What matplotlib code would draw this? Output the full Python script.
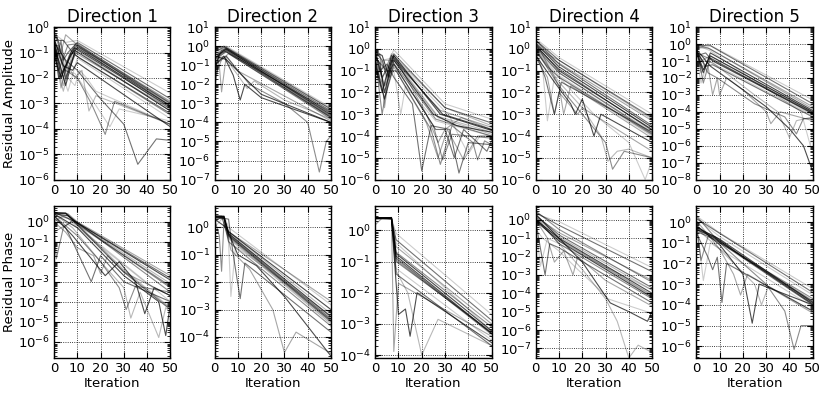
import numpy as np
import matplotlib
matplotlib.use("Agg")
import matplotlib.pyplot as plt
from matplotlib.ticker import LogLocator

# each curve: list of (iteration, residual) knots
amp_d1 = [
    [(0, 0.5), (2, 0.4), (5, 0.25), (10, 0.3), (50, 2.5e-3)],
    [(0, 0.6), (1, 0.5), (4, 0.05), (6, 0.1), (10, 0.25), (50, 1.5e-3)],
    [(0, 0.3), (3, 4e-3), (6, 0.05), (9, 0.2), (50, 1e-3)],
    [(0, 0.2), (2, 0.01), (5, 0.03), (9, 0.15), (50, 7e-4)],
    [(0, 0.1), (4, 3e-3), (7, 0.04), (10, 0.12), (50, 5e-4)],
    [(0, 0.4), (1, 0.05), (3, 0.3), (5, 0.01), (9, 0.08), (50, 3.5e-4)],
    [(0, 0.15), (3, 0.02), (6, 3e-3), (10, 0.06), (50, 2.5e-4)],
    [(0, 0.5), (2, 0.3), (4, 0.3), (8, 0.1), (11, 0.06), (50, 4e-4)],
    [(0, 0.05), (2, 0.2), (5, 8e-3), (9, 0.1), (50, 6e-4)],
    [(0, 0.35), (4, 0.03), (8, 0.02), (10, 0.04), (50, 1.2e-4)],
    [(0, 0.3), (6, 0.03), (9, 0.01), (12, 0.02), (15, 5e-4), (18, 2e-3), (50, 1.5e-4)],
    [(0, 0.2), (5, 0.02), (10, 0.01), (16, 1e-3), (22, 6e-5), (26, 1.2e-3), (50, 1.5e-4)],
    [(0, 0.4), (4, 0.02), (9, 0.015), (14, 3e-3), (24, 1.2e-4), (28, 6e-4), (50, 2e-4)],
    [(0, 0.25), (5, 0.05), (10, 0.02), (20, 1.5e-3), (30, 1.5e-4), (36, 4e-6), (44, 4e-5), (50, 3.5e-5)],
    [(0, 0.6), (3, 0.1), (5, 0.5), (10, 0.2), (50, 1.2e-3)],
    [(0, 0.08), (3, 0.01), (7, 0.08), (10, 0.15), (50, 8e-4)],
    [(0, 0.02), (1, 0.1), (4, 5e-3), (9, 0.2), (50, 9e-4)],
    [(0, 0.3), (2, 0.02), (6, 0.2), (10, 0.22), (50, 1e-3)],
    [(0, 0.2), (6, 0.01), (9, 5e-3), (11, 0.02), (14, 0.01), (18, 3e-3), (50, 1.5e-4)],
    [(0, 0.4), (3, 0.01), (7, 0.1), (10, 0.2), (50, 8e-4)],
    [(0, 0.25), (4, 0.01), (8, 0.15), (11, 0.15), (50, 6e-4)],
    [(0, 0.15), (2, 0.05), (5, 5e-3), (9, 0.12), (50, 5e-4)],
    [(0, 0.45), (3, 0.2), (6, 0.02), (10, 0.18), (50, 1.1e-3)],
]

amp_d2 = [
    [(0, 0.8), (5, 1.0), (50, 6e-4)],
    [(0, 0.5), (4, 0.9), (50, 4e-4)],
    [(0, 0.3), (5, 0.8), (50, 3e-4)],
    [(0, 0.05), (2, 0.4), (5, 0.7), (50, 2.5e-4)],
    [(0, 0.01), (1, 0.2), (5, 0.6), (50, 2e-4)],
    [(0, 5e-3), (2, 0.3), (5, 0.5), (50, 1.5e-4)],
    [(0, 0.6), (3, 0.7), (5, 0.9), (50, 5e-4)],
    [(0, 0.2), (4, 0.6), (50, 3.5e-4)],
    [(0, 0.03), (2, 0.1), (3, 4e-3), (5, 0.3), (10, 0.05), (50, 1.2e-4)],
    [(0, 0.1), (4, 0.3), (8, 0.03), (11, 1.5e-3), (13, 0.01), (20, 2e-3), (50, 1e-4)],
    [(0, 0.2), (4, 0.3), (10, 0.03), (14, 6e-3), (17, 0.015), (30, 1.5e-3), (50, 1.5e-4)],
    [(0, 0.1), (5, 0.3), (15, 0.01), (30, 1e-3), (40, 1e-4), (45, 2.5e-7), (48, 1e-5), (50, 2e-5)],
    [(0, 0.4), (5, 0.5), (50, 2e-4)],
    [(0, 0.7), (4, 1.0), (50, 5e-4)],
    [(0, 0.02), (3, 0.2), (6, 0.4), (50, 1.8e-4)],
    [(0, 0.3), (5, 0.2), (20, 3e-3), (50, 1e-4)],
    [(0, 0.15), (2, 0.5), (5, 0.8), (50, 3e-4)],
    [(0, 0.08), (3, 0.6), (5, 0.7), (50, 2.2e-4)],
    [(0, 0.4), (4, 0.8), (50, 2.8e-4)],
    [(0, 0.25), (5, 0.6), (50, 1.8e-4)],
]

amp_d3 = [
    [(0, 0.5), (1, 1.0), (4, 0.1), (8, 0.9), (30, 3e-3), (50, 6e-4)],
    [(0, 0.8), (3, 0.3), (5, 0.05), (8, 0.6), (30, 2e-3), (50, 4e-4)],
    [(0, 0.3), (2, 0.6), (4, 2e-3), (7, 0.4), (28, 1.5e-3), (50, 2.5e-4)],
    [(0, 0.2), (3, 0.01), (7, 0.5), (29, 1e-3), (50, 2e-4)],
    [(0, 0.6), (2, 0.05), (4, 0.3), (8, 0.3), (27, 7e-4), (50, 1.2e-4)],
    [(0, 0.4), (3, 1e-3), (6, 0.1), (8, 0.2), (25, 3e-4), (29, 8e-6), (33, 1.2e-4), (50, 8e-5)],
    [(0, 0.1), (4, 0.02), (8, 0.1), (11, 1e-3), (13, 0.02), (26, 5e-4), (50, 1e-4)],
    [(0, 0.9), (2, 0.1), (5, 0.2), (8, 0.05), (16, 3e-3), (20, 2.5e-6), (24, 3e-4), (32, 2e-4), (36, 2e-6), (40, 5e-5), (50, 4e-5)],
    [(0, 0.3), (4, 5e-3), (8, 0.15), (22, 4e-4), (27, 1e-5), (31, 2e-4), (38, 8e-6), (44, 1e-4), (50, 1e-4)],
    [(0, 0.7), (3, 0.5), (6, 0.05), (8, 0.3), (25, 1e-3), (35, 3e-4), (50, 1.5e-4)],
    [(0, 0.2), (2, 0.02), (7, 0.6), (30, 2e-3), (50, 3e-4)],
    [(0, 0.4), (5, 0.1), (9, 0.1), (24, 2e-4), (28, 5e-6), (33, 3e-4), (42, 5e-5), (44, 8e-6), (47, 6e-5), (50, 4e-5)],
    [(0, 0.05), (3, 0.3), (8, 0.4), (32, 8e-4), (36, 1e-4), (40, 1.5e-5), (45, 1e-4), (50, 1e-4)],
    [(0, 0.3), (4, 5e-3), (8, 0.2), (26, 2e-4), (30, 2e-4), (34, 1e-5), (38, 2e-4), (48, 2e-5), (50, 6e-5)],
    [(0, 0.5), (3, 0.05), (8, 0.5), (22, 1e-3), (27, 5e-5), (30, 2e-4), (37, 7e-4), (50, 2e-4)],
    [(0, 0.5), (2, 0.2), (4, 0.01), (8, 0.5), (28, 1e-3), (50, 1.8e-4)],
    [(0, 0.3), (3, 0.05), (8, 0.35), (27, 8e-4), (50, 1.5e-4)],
    [(0, 0.7), (4, 0.02), (7, 0.3), (26, 6e-4), (50, 1e-4)],
]

amp_d4 = [
    [(0, 3.0), (10, 0.4), (50, 1e-3)],
    [(0, 2.5), (10, 0.3), (50, 7e-4)],
    [(0, 2.0), (8, 0.3), (50, 5e-4)],
    [(0, 1.5), (10, 0.1), (50, 2e-4)],
    [(0, 1.0), (10, 0.08), (50, 1.5e-4)],
    [(0, 0.8), (5, 0.15), (10, 0.05), (50, 1.2e-4)],
    [(0, 1.2), (3, 0.1), (5, 5e-4), (8, 0.05), (10, 0.05), (50, 1e-4)],
    [(0, 0.6), (4, 0.05), (8, 1e-3), (11, 0.03), (50, 1.5e-4)],
    [(0, 2.0), (5, 0.2), (10, 0.02), (12, 1e-3), (15, 0.02), (50, 8e-5)],
    [(0, 0.5), (8, 0.03), (15, 3e-3), (17, 1e-3), (20, 5e-3), (25, 1e-4), (28, 1e-3), (50, 5e-5)],
    [(0, 1.0), (10, 0.03), (20, 2e-3), (28, 1e-4), (31, 7e-6), (35, 2e-5), (40, 2.5e-5), (50, 1e-5)],
    [(0, 0.9), (10, 0.02), (20, 1e-3), (30, 5e-5), (33, 3e-6), (38, 2e-5), (50, 1e-5)],
    [(0, 0.7), (10, 0.05), (25, 1e-3), (40, 5e-5), (47, 1e-6), (50, 8e-6)],
    [(0, 2.5), (10, 0.2), (50, 3e-4)],
    [(0, 0.4), (5, 0.05), (8, 1e-3), (10, 0.01), (18, 1e-3), (20, 2e-3), (50, 2e-5)],
    [(0, 1.8), (10, 0.15), (50, 2.5e-4)],
    [(0, 1.5), (6, 0.5), (10, 0.3), (50, 6e-4)],
    [(0, 1.2), (10, 0.08), (50, 1.3e-4)],
    [(0, 0.9), (10, 0.06), (50, 1.1e-4)],
    [(0, 1.3), (10, 0.12), (50, 1.8e-4)],
]

amp_d5 = [
    [(0, 0.5), (5, 1.0), (50, 5e-4)],
    [(0, 0.8), (6, 0.8), (50, 3e-4)],
    [(0, 1.0), (6, 0.5), (50, 2e-4)],
    [(0, 0.3), (3, 0.02), (6, 0.3), (50, 1.2e-4)],
    [(0, 0.5), (2, 0.1), (6, 0.2), (50, 1e-4)],
    [(0, 0.7), (3, 5e-3), (6, 0.15), (50, 8e-5)],
    [(0, 0.2), (2, 5e-3), (5, 0.1), (50, 6e-5)],
    [(0, 0.4), (4, 0.05), (7, 0.06), (50, 5e-5)],
    [(0, 0.6), (2, 0.05), (5, 0.05), (7, 1e-3), (9, 0.01), (10, 1e-3), (13, 0.01), (20, 2e-3), (30, 1e-4), (32, 2e-5), (36, 1e-4), (50, 3e-5)],
    [(0, 0.5), (6, 0.05), (30, 2e-4), (40, 1e-5), (46, 1e-6), (50, 3e-8)],
    [(0, 0.3), (3, 0.1), (7, 0.08), (25, 1e-3), (35, 1e-4), (40, 3e-6), (43, 3e-5), (50, 5e-5)],
    [(0, 0.5), (5, 0.02), (9, 0.01), (25, 3e-4), (38, 5e-5), (43, 5e-6), (46, 4e-5), (50, 4e-5)],
    [(0, 0.9), (6, 0.4), (45, 1e-4), (49, 1e-6), (50, 1e-5)],
    [(0, 0.2), (4, 0.3), (7, 0.1), (50, 8e-5)],
    [(0, 0.6), (5, 0.6), (50, 1.5e-4)],
    [(0, 0.4), (3, 0.03), (6, 0.2), (50, 1e-4)],
    [(0, 0.6), (2, 0.02), (6, 0.15), (50, 7e-5)],
    [(0, 0.3), (5, 0.15), (50, 9e-5)],
]

ph_d1 = [
    [(0, 2.8), (5, 2.8), (10, 0.8), (30, 4e-3), (50, 5e-5)],
    [(0, 2.9), (5, 2.7), (10, 0.7), (30, 3e-3), (50, 4e-5)],
    [(0, 2.7), (6, 2.5), (10, 1.0), (50, 2e-3)],
    [(0, 2.5), (6, 2.0), (10, 0.9), (50, 1.2e-3)],
    [(0, 1.0), (4, 2.0), (9, 1.0), (50, 8e-4)],
    [(0, 0.5), (1, 0.014), (4, 0.5), (8, 1.2), (50, 5e-4)],
    [(0, 2.0), (6, 1.5), (10, 0.5), (40, 8e-4), (50, 2e-4)],
    [(0, 1.5), (5, 0.5), (8, 0.1), (12, 0.01), (16, 1e-3), (20, 0.02), (30, 1e-3), (50, 1e-4)],
    [(0, 1.0), (5, 0.3), (10, 0.05), (17, 0.02), (20, 2.5e-3), (23, 0.02), (30, 3e-3), (50, 2e-4)],
    [(0, 2.0), (8, 0.2), (15, 0.02), (22, 2e-3), (28, 0.01), (35, 1e-3), (39, 2.5e-5), (43, 5e-4), (50, 2e-4)],
    [(0, 2.5), (8, 0.5), (20, 0.01), (30, 5e-4), (33, 1.5e-5), (37, 3e-4), (45, 1.6e-6), (48, 5e-5), (50, 3e-5)],
    [(0, 2.0), (10, 0.2), (20, 0.01), (28, 5e-4), (31, 4e-5), (35, 6e-4), (50, 3e-4)],
    [(0, 2.8), (5, 2.6), (10, 0.6), (50, 1e-4)],
    [(0, 3.0), (10, 0.9), (50, 1.5e-3)],
    [(0, 0.3), (3, 0.5), (8, 1.0), (50, 6e-4)],
    [(0, 2.5), (10, 0.5), (30, 2e-3), (45, 1e-4), (48, 2e-6), (50, 8e-5)],
    [(0, 2.9), (5, 2.8), (10, 0.75), (30, 3.5e-3), (50, 4.5e-5)],
    [(0, 2.7), (5, 2.6), (10, 0.9), (50, 3e-4)],
    [(0, 2.8), (6, 2.4), (10, 0.8), (50, 6e-4)],
]

ph_d2 = [
    [(0, 2.5), (4, 2.5), (6, 0.6), (50, 5e-4)],
    [(0, 2.4), (4, 2.4), (6, 0.5), (50, 4e-4)],
    [(0, 2.6), (3, 2.6), (5, 0.8), (50, 2e-3)],
    [(0, 2.2), (4, 2.2), (6, 0.7), (50, 1e-3)],
    [(0, 1.5), (3, 2.5), (6, 0.4), (50, 3e-4)],
    [(0, 2.0), (2, 0.5), (3, 0.025), (4, 1.5), (6, 0.3), (50, 2.5e-4)],
    [(0, 1.0), (4, 2.5), (6, 0.3), (7, 3e-3), (9, 0.2), (50, 6e-4)],
    [(0, 2.5), (6, 2.0), (8, 0.1), (11, 2.5e-3), (13, 0.05), (50, 1.5e-4)],
    [(0, 2.3), (4, 2.0), (7, 0.15), (15, 0.03), (25, 1e-3), (30, 2.7e-5), (35, 1.5e-4), (50, 2.5e-5)],
    [(0, 2.0), (5, 1.0), (10, 0.1), (18, 0.04), (30, 3e-3), (50, 2e-5)],
    [(0, 2.5), (4, 2.6), (6, 0.7), (50, 7e-4)],
    [(0, 2.4), (4, 2.3), (6, 0.45), (50, 3.5e-4)],
    [(0, 2.7), (4, 2.7), (6, 1.0), (50, 1.5e-3)],
    [(0, 2.5), (4, 2.5), (6, 0.55), (50, 4.5e-4)],
    [(0, 2.3), (4, 2.4), (6, 0.5), (50, 3.8e-4)],
    [(0, 2.6), (4, 2.5), (6, 0.6), (50, 5.5e-4)],
]

ph_d3 = [
    [(0, 2.5), (7, 2.5), (9, 0.8), (50, 2e-3)],
    [(0, 2.6), (7, 2.4), (9, 0.5), (50, 1.3e-3)],
    [(0, 2.4), (7, 2.5), (9, 0.3), (50, 1e-3)],
    [(0, 2.5), (7, 2.6), (9, 0.15), (50, 5e-4)],
    [(0, 2.4), (7, 2.4), (9, 0.12), (50, 4.5e-4)],
    [(0, 2.6), (7, 2.5), (9, 0.1), (50, 5.5e-4)],
    [(0, 2.3), (7, 2.3), (9, 0.06), (50, 3e-4)],
    [(0, 2.5), (7, 2.5), (9, 0.04), (50, 2e-4)],
    [(0, 1.5), (3, 2.5), (7, 2.5), (8, 1.3e-4), (10, 0.02), (50, 4e-4)],
    [(0, 2.5), (7, 2.3), (9, 0.02), (10, 2e-3), (13, 3e-3), (15, 4e-4), (18, 0.01), (50, 2.5e-4)],
    [(0, 2.5), (7, 2.4), (9, 0.05), (14, 0.01), (20, 1e-4), (27, 1.4e-3), (50, 2e-4)],
    [(0, 2.5), (7, 2.6), (9, 0.2), (50, 8e-4)],
    [(0, 2.2), (7, 2.5), (9, 0.4), (50, 6e-4)],
    [(0, 2.5), (7, 2.5), (9, 0.13), (50, 4.8e-4)],
    [(0, 2.4), (7, 2.6), (9, 0.11), (50, 5e-4)],
    [(0, 2.5), (7, 2.4), (9, 0.18), (50, 6e-4)],
]

ph_d4 = [
    [(0, 2.0), (10, 0.8), (50, 2.5e-3)],
    [(0, 2.5), (10, 0.5), (50, 1.5e-3)],
    [(0, 1.5), (10, 0.2), (50, 5e-4)],
    [(0, 1.0), (10, 0.1), (50, 1e-4)],
    [(0, 0.8), (10, 0.08), (50, 7e-5)],
    [(0, 1.2), (10, 0.05), (50, 5e-5)],
    [(0, 0.5), (2, 3e-3), (5, 0.1), (10, 0.05), (50, 1.5e-4)],
    [(0, 0.8), (4, 1e-3), (6, 0.05), (10, 0.03), (50, 3e-5)],
    [(0, 1.0), (5, 0.1), (8, 5e-3), (12, 0.02), (16, 1e-3), (18, 0.01), (30, 5e-4), (50, 2e-5)],
    [(0, 2.0), (10, 0.1), (20, 5e-3), (30, 7e-5), (32, 3e-5), (40, 1e-5), (48, 3e-6), (50, 1e-5)],
    [(0, 1.5), (10, 0.05), (20, 2e-3), (30, 5e-5), (35, 3e-6), (40, 3e-8), (44, 1.5e-7), (50, 6e-8)],
    [(0, 3.0), (10, 0.3), (50, 4e-4)],
    [(0, 0.3), (3, 0.1), (10, 0.02), (18, 2e-3), (29, 1e-4), (31, 5e-5), (50, 8e-6)],
    [(0, 1.8), (10, 0.15), (50, 2e-4)],
    [(0, 1.1), (10, 0.09), (50, 8e-5)],
    [(0, 0.9), (10, 0.07), (50, 6e-5)],
    [(0, 1.4), (10, 0.12), (50, 1.5e-4)],
]

ph_d5 = [
    [(0, 2.0), (10, 0.3), (50, 6e-4)],
    [(0, 1.5), (8, 0.4), (50, 4e-4)],
    [(0, 0.5), (8, 0.2), (20, 0.02), (50, 1.5e-4)],
    [(0, 0.6), (6, 0.25), (10, 0.15), (50, 1.3e-4)],
    [(0, 0.4), (8, 0.18), (50, 1.2e-4)],
    [(0, 0.8), (2, 0.014), (5, 0.2), (10, 0.1), (50, 2e-4)],
    [(0, 1.0), (3, 1.5e-3), (6, 0.1), (10, 0.05), (50, 8e-5)],
    [(0, 0.3), (5, 0.02), (7, 5e-3), (9, 0.02), (11, 1.3e-4), (13, 0.01), (50, 5e-5)],
    [(0, 1.2), (10, 0.05), (16, 3e-3), (19, 3e-4), (22, 3e-3), (50, 4e-5)],
    [(0, 0.7), (10, 0.08), (20, 3e-3), (24, 1.3e-5), (27, 1e-3), (50, 1e-4)],
    [(0, 0.5), (10, 0.05), (25, 1e-3), (28, 1e-4), (31, 8e-4), (50, 5e-5)],
    [(0, 2.0), (10, 0.1), (30, 1e-3), (38, 5e-5), (42, 7e-7), (45, 1e-5), (50, 1e-5)],
    [(0, 1.5), (10, 0.2), (50, 3e-4)],
    [(0, 0.35), (8, 0.15), (50, 1e-4)],
    [(0, 0.5), (8, 0.2), (20, 0.02), (50, 1.4e-4)],
    [(0, 0.45), (8, 0.17), (50, 1.1e-4)],
    [(0, 0.55), (6, 0.22), (50, 1.6e-4)],
]

titles = ["Direction 1", "Direction 2", "Direction 3", "Direction 4", "Direction 5"]
amp_data = [amp_d1, amp_d2, amp_d3, amp_d4, amp_d5]
ph_data = [ph_d1, ph_d2, ph_d3, ph_d4, ph_d5]
amp_ylims = [(1e-6, 1e0), (1e-7, 1e1), (1e-6, 1e1), (1e-6, 1e1), (1e-8, 1e1)]
ph_ylims = [(1.5e-7, 6.5), (1.7e-5, 6.3), (8e-5, 6.3), (3e-8, 6.0), (2.7e-7, 6.3)]

alphas = [0.2, 0.55, 0.35, 0.7, 0.28, 0.45]

plt.rcParams['font.family'] = 'DejaVu Sans'
plt.rcParams['mathtext.fontset'] = 'dejavusans'

fig, axes = plt.subplots(2, 5, figsize=(8.31, 3.93), dpi=100)
fig.subplots_adjust(left=0.065, right=0.978, top=0.931, bottom=0.089,
                    wspace=0.38, hspace=0.17)


def draw(ax, curves, ylim):
    for j, c in enumerate(curves):
        x = [p[0] for p in c]
        y = [p[1] for p in c]
        ax.plot(x, y, color='k', alpha=alphas[j % len(alphas)], lw=0.8)
    ax.set_yscale('log')
    ax.set_xlim(0, 50)
    ax.set_ylim(*ylim)
    ax.set_xticks([0, 10, 20, 30, 40, 50])
    ax.yaxis.set_major_locator(LogLocator(base=10, numticks=30))
    ax.yaxis.set_minor_locator(LogLocator(base=10, subs=np.arange(2, 10), numticks=30))
    ax.tick_params(which='both', direction='in', top=True, right=True, labelsize=9.5)
    ax.tick_params(which='major', length=4, pad=3)
    ax.tick_params(which='minor', length=2)
    ax.grid(True, which='major', linestyle=':', color='k', lw=0.6)
    for s in ax.spines.values():
        s.set_linewidth(1.0)


for i in range(5):
    draw(axes[0, i], amp_data[i], amp_ylims[i])
    axes[0, i].set_title(titles[i], fontsize=12, pad=4)
    draw(axes[1, i], ph_data[i], ph_ylims[i])
    axes[1, i].set_xlabel("Iteration", fontsize=9.5, labelpad=1)

axes[0, 0].set_ylabel("Residual Amplitude", fontsize=9.5, labelpad=1)
axes[1, 0].set_ylabel("Residual Phase", fontsize=9.5, labelpad=1)

fig.savefig("out.png", dpi=100)
